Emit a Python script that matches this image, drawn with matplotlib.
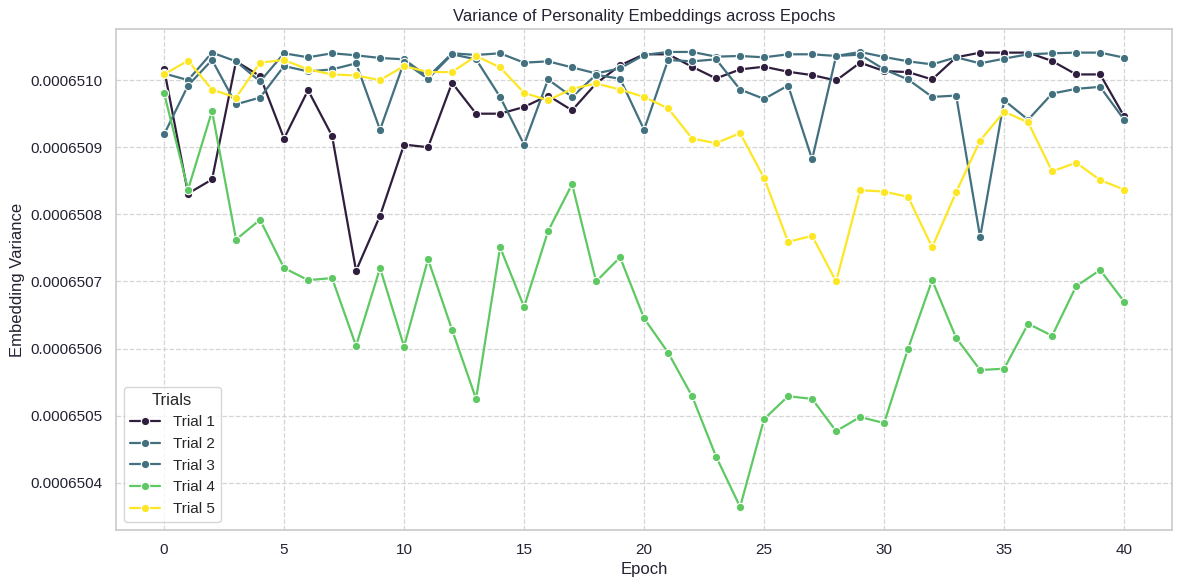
import matplotlib
matplotlib.use("Agg")
import matplotlib.pyplot as plt
import seaborn as sns
import numpy as np

epochs = list(range(41))

# values = 0.000651 + offset * 1e-7 (offsets)
trial1_off = [0.17, -1.69, -1.48, 0.28, 0.06, -0.87, -0.15, -0.83, -2.84, -2.02,
              -0.96, -1.00, -0.04, -0.50, -0.50, -0.40, -0.23, -0.45, -0.05, 0.22,
              0.385, 0.385, 0.20, 0.025, 0.16, 0.20, 0.125, 0.075, -0.005, 0.26,
              0.135, 0.12, 0.01, 0.34, 0.41, 0.41, 0.41, 0.285, 0.085, 0.085, -0.54]
trial2_off = [0.10, 0.00, 0.41, 0.28, -0.02, 0.40, 0.34, 0.40, 0.37, 0.33,
              0.31, 0.05, 0.40, 0.375, 0.40, 0.26, 0.28, 0.19, 0.10, 0.175,
              0.375, 0.42, 0.42, 0.35, 0.36, 0.34, 0.385, 0.385, 0.36, 0.42,
              0.345, 0.28, 0.235, 0.34, 0.25, 0.32, 0.385, 0.40, 0.41, 0.41, 0.335]
trial3_off = [-0.81, -0.08, 0.30, -0.36, -0.26, 0.21, 0.13, 0.16, 0.25, -0.74,
              0.27, 0.02, 0.385, 0.31, -0.25, -0.96, 0.01, -0.25, 0.08, 0.02,
              -0.74, 0.30, 0.28, 0.31, -0.14, -0.28, -0.08, -1.18, 0.36, 0.38,
              0.16, 0.01, -0.25, -0.23, -2.34, -0.30, -0.59, -0.20, -0.13, -0.10, -0.59]
trial4_off = [-0.19, -1.63, -0.46, -2.375, -2.08, -2.80, -2.98, -2.95, -3.96, -2.80,
              -3.97, -2.67, -3.72, -4.75, -2.49, -3.38, -2.25, -1.55, -3.00, -2.64,
              -3.55, -4.06, -4.71, -5.61, -6.36, -5.05, -4.71, -4.75, -5.23, -5.02,
              -5.11, -4.00, -2.98, -3.84, -4.32, -4.30, -3.63, -3.81, -3.07, -2.83, -3.30]
trial5_off = [0.085, 0.29, -0.14, -0.26, 0.26, 0.30, 0.16, 0.085, 0.07, 0.00,
              0.21, 0.12, 0.12, 0.36, 0.19, -0.19, -0.30, -0.13, -0.05, -0.14,
              -0.25, -0.42, -0.87, -0.94, -0.79, -1.46, -2.41, -2.32, -3.00, -1.64,
              -1.66, -1.74, -2.49, -1.67, -0.90, -0.47, -0.63, -1.36, -1.23, -1.49, -1.63]

base = 0.000651
scale = 1e-7
trial_names = ["Trial 1", "Trial 2", "Trial 3", "Trial 4", "Trial 5"]
trial_offsets = [trial1_off, trial2_off, trial3_off, trial4_off, trial5_off]
colors = ["#2f1e3d", "#42707f", "#42707f", "#5ec962", "#fde725"]

sns.set_theme(style="whitegrid")
plt.rcParams['font.family'] = ['Liberation Sans', 'DejaVu Sans']

fig, ax = plt.subplots(figsize=(11.84, 5.84), dpi=100)
for name, offs, c in zip(trial_names, trial_offsets, colors):
    vals = base + np.array(offs) * scale
    ax.plot(epochs, vals, marker='o', color=c, label=name, linewidth=1.6,
            markersize=6, markeredgecolor='white', markeredgewidth=0.8)

ax.ticklabel_format(axis='y', useOffset=False, style='plain')
ax.grid(True, linestyle='--', color='#d5d5d5', linewidth=0.9)
ax.set_title("Variance of Personality Embeddings across Epochs", fontsize=12, color='#222233')
ax.set_xlabel("Epoch", fontsize=12, color='#222233')
ax.set_ylabel("Embedding Variance", fontsize=12, color='#222233')
ax.tick_params(labelsize=11, colors='#222233')
ax.set_xticks([0, 5, 10, 15, 20, 25, 30, 35, 40])
leg = ax.legend(title="Trials", loc='lower left', fontsize=11, title_fontsize=12)
for sp in ax.spines.values():
    sp.set_color('#cccccc')
fig.subplots_adjust(left=0.098, right=0.99, top=0.950, bottom=0.093)
fig.savefig("out.png", dpi=100)
